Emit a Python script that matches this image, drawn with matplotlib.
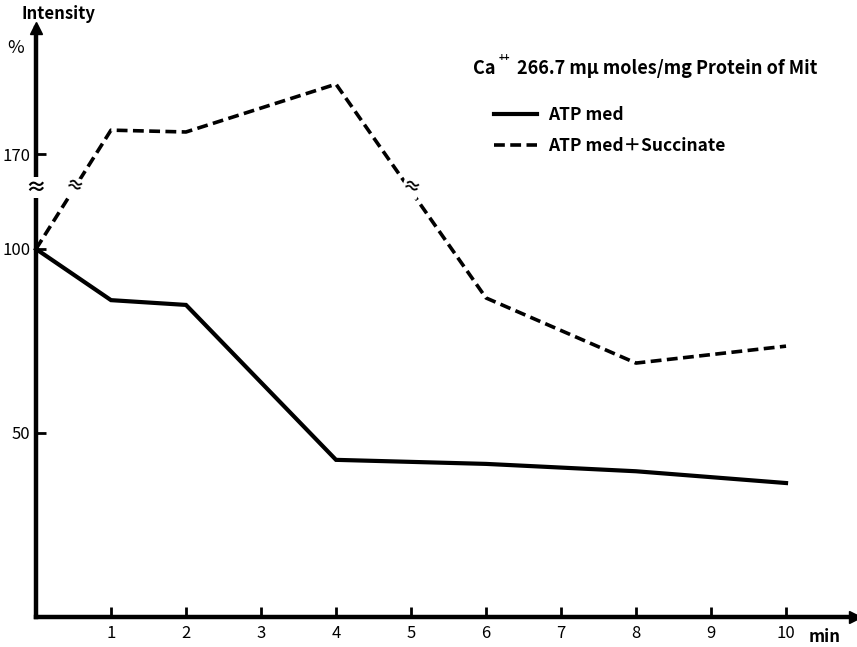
import numpy as np
import matplotlib.pyplot as plt

plt.rcParams['font.family'] = ['Noto Sans CJK JP', 'DejaVu Sans']
plt.rcParams['font.weight'] = 'bold'

# time in minutes
t_atp = [0, 1, 2, 4, 6, 8, 10]
atp_med = [100, 86.1, 84.8, 42.7, 41.6, 39.6, 36.4]

t_succ = [0, 1, 2, 4, 6, 8, 10]
atp_succ = [100, 176.5, 176.0, 189.0, 86.7, 69.0, 73.6]

x_ticks = [1, 2, 3, 4, 5, 6, 7, 8, 9, 10]
y_ticks = [50, 100, 170]

# broken y axis: 0-100 linear, 100-170 squeezed, above 170 linear again
LO, HI, GAP = 100.0, 170.0, 25.8


def fwd(v):
    v = np.asarray(v, dtype=float)
    mid = LO + (v - LO) * GAP / (HI - LO)
    top = v - (HI - LO) + GAP
    return np.where(v <= LO, v, np.where(v < HI, mid, top))


def inv(d):
    d = np.asarray(d, dtype=float)
    mid = LO + (d - LO) * (HI - LO) / GAP
    top = d + (HI - LO) - GAP
    return np.where(d <= LO, d, np.where(d < LO + GAP, mid, top))


fig = plt.figure(figsize=(8.57, 6.47), dpi=100)
ax = fig.add_axes([0.042, 0.0464, 0.9557, 0.910])
ax.set_yscale('function', functions=(fwd, inv))

ax.plot(t_atp, atp_med, color='black', lw=3, solid_joinstyle='miter',
        label='ATP med', clip_on=False)
ax.plot(t_succ, atp_succ, color='black', lw=2.6, linestyle=(0, (3, 1.5)),
        label='ATP med＋Succinate', clip_on=False)

ax.set_xlim(0, 10.92)
ax.set_ylim(0, float(inv(160)))

for s in ['top', 'right']:
    ax.spines[s].set_visible(False)
for s in ['left', 'bottom']:
    ax.spines[s].set_linewidth(3.2)

ax.set_xticks(x_ticks)
ax.set_xticklabels([str(v) for v in x_ticks], fontweight='normal')
ax.set_yticks(y_ticks)
ax.set_yticklabels([str(v) for v in y_ticks], fontweight='normal')
ax.tick_params(direction='in', length=7, width=2, labelsize=12, pad=6)
ax.tick_params(axis='y', pad=4)

# arrow heads on both axes
ax.plot(0, 1, marker='^', color='black', markersize=9,
        transform=ax.transAxes, clip_on=False)
ax.plot(1, 0, marker='>', color='black', markersize=9,
        transform=ax.transAxes, clip_on=False)

# break marks
ax.text(0, 145, '≈', ha='center', va='center', fontsize=15, fontweight='bold',
        bbox=dict(fc='white', ec='none', pad=0), clip_on=False)
ax.text(0.5, 146, '≈', ha='center', va='center', fontsize=13, rotation=-20,
        bbox=dict(fc='white', ec='none', pad=0))
ax.text(5, 145, '≈', ha='center', va='center', fontsize=13, rotation=-20,
        bbox=dict(fc='white', ec='none', pad=0))

fig.text(0.068, 0.978, 'Intensity', ha='center', va='center', fontsize=12)
fig.text(0.018, 0.926, '%', ha='center', va='center', fontsize=13,
         style='italic', fontweight='normal')
fig.text(0.943, 0.015, 'min', ha='left', va='center', fontsize=12)

fig.text(0.552, 0.894, 'Ca', ha='left', va='center', fontsize=13)
fig.text(0.582, 0.911, '++', ha='left', va='center', fontsize=7)
fig.text(0.603, 0.894, '266.7 m\u03bc moles/mg Protein of Mit', ha='left',
         va='center', fontsize=13)

ax.legend(loc='upper left', bbox_to_anchor=(0.54, 0.895), frameon=False,
          prop=dict(size=12.5, weight='bold'), handlelength=2.5,
          handletextpad=0.6, labelspacing=0.75)

fig.savefig('out.png', dpi=100)
